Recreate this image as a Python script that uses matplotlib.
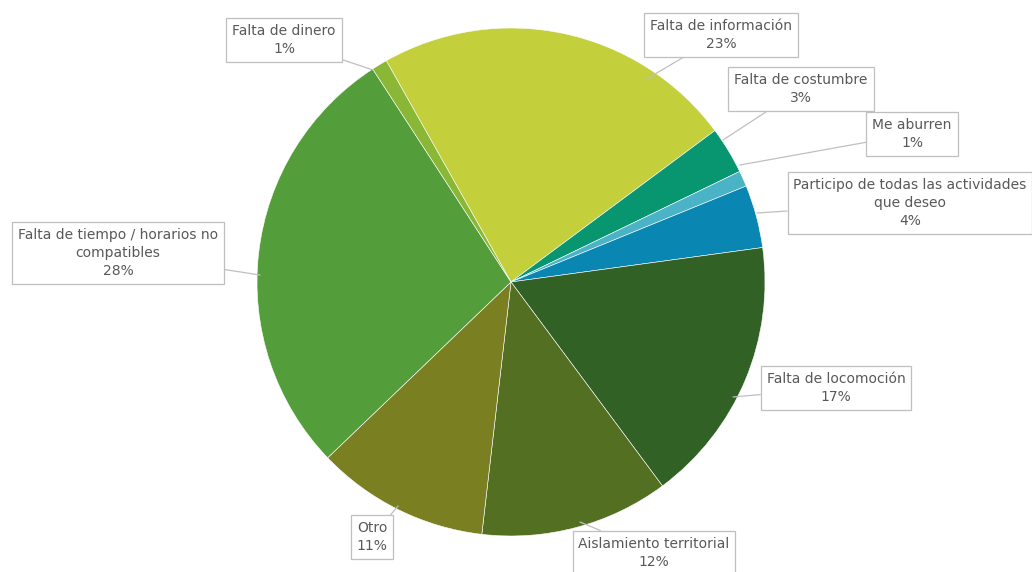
import matplotlib.pyplot as plt

# data, clockwise from "Falta de información"
categories = ['Falta de información', 'Falta de costumbre', 'Me aburren',
              'Participo de todas las actividades\nque deseo', 'Falta de locomoción',
              'Aislamiento territorial', 'Otro',
              'Falta de tiempo / horarios no\ncompatibles', 'Falta de dinero']
values = [23, 3, 1, 4, 17, 12, 11, 28, 1]
colors = ['#C3CF3B', '#079670', '#4BB3C6', '#0A86B3', '#316125',
          '#536F22', '#7A7F22', '#539E3A', '#8AB735']

# label box centres and pointer tips, in pixel coords (y down)
box_pos = [(721, 35), (801, 89), (912, 134), (910, 203), (836, 388),
           (654, 553), (372, 537), (118, 253), (284, 40)]
tip_pos = [(645, 80), (723, 140), (740, 165), (757, 213), (733, 397),
           (580, 522), (398, 506), (260, 275), (373, 70)]

W, H = 1032, 572
fig = plt.figure(figsize=(W / 100, H / 100), dpi=100)
ax = fig.add_axes([0, 0, 1, 1])

cx, cy, r = 511, 282, 254
ax.pie(values, colors=colors, startangle=119.4, counterclock=False,
       center=(cx, H - cy), radius=r,
       wedgeprops=dict(edgecolor='white', linewidth=0.4))

total = sum(values)
for name, v, (bx, by), (tx, ty) in zip(categories, values, box_pos, tip_pos):
    txt = name + '\n' + str(round(100 * v / total)) + '%'
    ax.annotate(txt, xy=(tx, H - ty), xytext=(bx, H - by),
                ha='center', va='center', fontsize=10, color='#595959',
                linespacing=1.4,
                bbox=dict(boxstyle='square,pad=0.42', fc='white', ec='#BFBFBF', lw=0.9),
                arrowprops=dict(arrowstyle='-', color='#BFBFBF', lw=0.9,
                                shrinkA=0, shrinkB=0))

ax.set_xlim(0, W)
ax.set_ylim(0, H)
ax.set_aspect('equal')
ax.axis('off')

fig.savefig('out.png', dpi=100)
